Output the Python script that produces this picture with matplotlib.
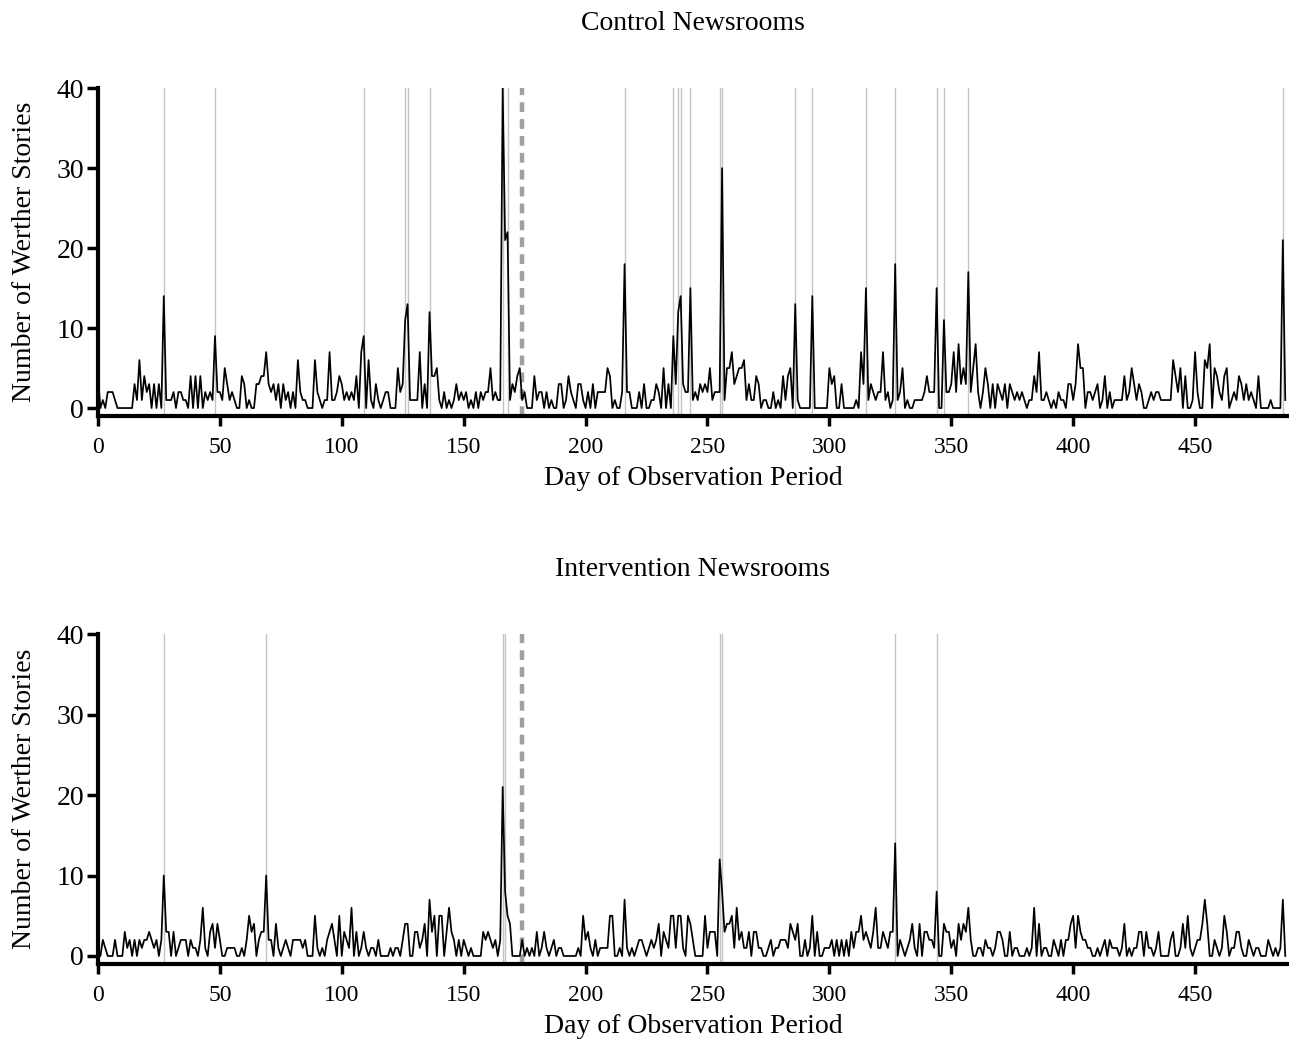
import matplotlib

matplotlib.use("Agg")
import matplotlib.pyplot as plt
import numpy as np

TITLE_SIZE = 20
LABEL_SIZE = 20
XTICK_SIZE = 17
YTICK_SIZE = 20
LINE_COLOR = "black"
EVENT_COLOR = "#c4c4c4"
CUTOFF_COLOR = "#a0a0a0"

# daily counts, day 0 .. 487
CONTROL = [
    4, 0, 1, 0, 2, 2, 2, 1, 0, 0,
    0, 0, 0, 0, 0, 3, 1, 6, 1, 4,
    2, 3, 0, 3, 0, 3, 0, 14, 1, 1,
    1, 2, 0, 2, 2, 1, 1, 0, 4, 0,
    4, 0, 4, 0, 2, 1, 2, 1, 9, 2,
    2, 1, 5, 3, 1, 2, 1, 0, 0, 4,
    3, 0, 1, 0, 0, 3, 3, 4, 4, 7,
    3, 2, 3, 1, 3, 0, 3, 1, 2, 0,
    2, 0, 6, 2, 1, 1, 0, 0, 0, 6,
    2, 1, 0, 1, 1, 7, 1, 1, 2, 4,
    3, 1, 2, 1, 2, 1, 4, 0, 7, 9,
    0, 6, 1, 0, 3, 1, 0, 1, 2, 2,
    0, 0, 0, 5, 2, 3, 11, 13, 1, 1,
    1, 1, 7, 0, 3, 0, 12, 4, 4, 5,
    1, 0, 2, 0, 1, 0, 1, 3, 1, 2,
    1, 2, 0, 1, 0, 2, 0, 2, 1, 2,
    2, 5, 1, 2, 1, 1, 40, 21, 22, 1,
    3, 2, 4, 5, 1, 2, 0, 0, 0, 4,
    1, 2, 2, 0, 2, 0, 1, 0, 0, 3,
    3, 0, 1, 4, 2, 1, 0, 3, 3, 1,
    0, 2, 0, 3, 0, 2, 2, 2, 2, 5,
    4, 0, 1, 0, 0, 2, 18, 2, 2, 0,
    0, 0, 2, 0, 3, 0, 0, 1, 1, 3,
    2, 0, 5, 0, 3, 0, 9, 3, 12, 14,
    3, 2, 2, 15, 1, 2, 1, 3, 2, 3,
    2, 5, 1, 2, 2, 2, 30, 1, 5, 5,
    7, 3, 4, 5, 5, 6, 1, 3, 1, 1,
    4, 3, 0, 1, 1, 0, 0, 2, 0, 1,
    0, 4, 1, 4, 5, 0, 13, 1, 0, 0,
    0, 0, 0, 14, 0, 0, 0, 0, 0, 0,
    5, 3, 4, 0, 0, 3, 0, 0, 0, 0,
    0, 1, 0, 7, 3, 15, 1, 3, 2, 1,
    2, 2, 7, 1, 2, 0, 1, 18, 1, 2,
    5, 0, 1, 0, 0, 1, 1, 1, 1, 2,
    4, 2, 2, 2, 15, 0, 0, 11, 2, 2,
    3, 7, 2, 8, 3, 5, 3, 17, 2, 5,
    8, 2, 0, 2, 5, 3, 0, 3, 0, 3,
    2, 1, 3, 0, 3, 2, 1, 2, 1, 2,
    1, 0, 1, 1, 4, 2, 7, 1, 1, 2,
    1, 0, 1, 0, 2, 1, 1, 0, 3, 3,
    1, 3, 8, 5, 5, 0, 2, 2, 1, 2,
    3, 0, 1, 4, 0, 2, 0, 1, 1, 1,
    1, 4, 1, 2, 5, 3, 1, 3, 2, 0,
    0, 1, 2, 1, 2, 2, 1, 1, 1, 1,
    1, 6, 4, 2, 5, 0, 4, 0, 0, 1,
    7, 2, 0, 0, 6, 5, 8, 0, 5, 4,
    2, 1, 4, 5, 0, 1, 2, 1, 4, 3,
    1, 3, 1, 2, 1, 0, 4, 0, 0, 0,
    0, 1, 0, 0, 0, 0, 21, 1,
]

INTERVENTION = [
    0, 0, 2, 1, 0, 0, 0, 2, 0, 0,
    0, 3, 1, 2, 0, 2, 0, 2, 1, 2,
    2, 3, 2, 1, 2, 0, 2, 10, 3, 3,
    0, 3, 0, 1, 2, 2, 2, 0, 2, 1,
    1, 0, 2, 6, 1, 0, 3, 4, 1, 4,
    2, 0, 0, 1, 1, 1, 1, 0, 0, 1,
    0, 2, 5, 3, 4, 0, 2, 3, 3, 10,
    2, 2, 0, 4, 1, 0, 1, 2, 1, 0,
    2, 2, 2, 2, 1, 2, 0, 0, 0, 5,
    1, 0, 1, 0, 2, 3, 4, 2, 0, 5,
    0, 3, 2, 1, 6, 0, 3, 0, 1, 3,
    1, 0, 1, 1, 0, 2, 0, 0, 0, 0,
    1, 0, 1, 1, 0, 2, 4, 4, 0, 0,
    3, 3, 1, 2, 4, 0, 7, 3, 5, 0,
    5, 5, 0, 3, 6, 3, 2, 0, 2, 0,
    2, 1, 0, 1, 0, 0, 0, 0, 3, 2,
    3, 2, 1, 2, 0, 2, 21, 8, 5, 4,
    0, 0, 0, 0, 2, 0, 1, 0, 1, 0,
    3, 0, 1, 3, 1, 0, 1, 2, 0, 1,
    1, 0, 0, 0, 0, 0, 0, 1, 0, 5,
    2, 3, 1, 0, 2, 0, 1, 1, 1, 1,
    5, 5, 0, 0, 1, 0, 7, 1, 0, 1,
    0, 1, 2, 2, 1, 0, 1, 2, 1, 2,
    4, 0, 3, 2, 1, 5, 5, 1, 5, 5,
    1, 0, 5, 4, 2, 0, 0, 0, 0, 5,
    1, 3, 3, 3, 0, 12, 8, 3, 4, 4,
    5, 1, 6, 2, 3, 1, 1, 3, 0, 3,
    3, 1, 1, 0, 0, 1, 2, 0, 1, 1,
    2, 2, 2, 1, 4, 3, 2, 4, 0, 0,
    2, 0, 1, 5, 0, 3, 0, 0, 1, 1,
    1, 2, 0, 2, 0, 2, 0, 2, 0, 3,
    1, 3, 3, 5, 2, 3, 2, 1, 3, 6,
    1, 1, 3, 2, 1, 3, 3, 14, 0, 2,
    1, 0, 1, 2, 4, 1, 0, 4, 0, 3,
    3, 2, 2, 1, 8, 0, 0, 4, 3, 3,
    1, 2, 0, 4, 2, 4, 3, 6, 2, 0,
    0, 1, 1, 0, 2, 1, 1, 0, 1, 3,
    3, 2, 0, 0, 3, 0, 1, 1, 0, 0,
    0, 1, 0, 1, 6, 0, 4, 0, 1, 1,
    0, 0, 2, 1, 0, 2, 0, 2, 2, 4,
    5, 1, 5, 3, 2, 2, 1, 1, 0, 0,
    1, 0, 1, 2, 0, 2, 1, 1, 1, 0,
    1, 4, 0, 1, 0, 1, 1, 3, 3, 0,
    3, 1, 1, 0, 1, 3, 0, 0, 0, 0,
    2, 3, 0, 0, 1, 4, 1, 5, 1, 0,
    1, 2, 2, 4, 7, 4, 0, 0, 2, 1,
    0, 1, 5, 3, 0, 1, 1, 3, 3, 1,
    0, 0, 2, 1, 0, 1, 1, 0, 0, 0,
    2, 1, 0, 1, 0, 1, 7, 0,
]

CONTROL_EVENTS = [27, 48, 109, 126, 127, 136, 166, 168, 216, 236, 238, 239,
                  243, 255, 256, 286, 293, 315, 327, 344, 347, 357, 486]
INTERVENTION_EVENTS = [27, 69, 166, 167, 255, 256, 327, 344]
CUTOFF_DAY = 174

X_TICKS = [0, 50, 100, 150, 200, 250, 300, 350, 400, 450]
Y_TICKS = [0, 10, 20, 30, 40]


def draw_panel(ax, values, events, title):
    days = np.arange(len(values))
    for day in events:
        ax.axvline(day, color=EVENT_COLOR, linewidth=1.0, zorder=1)
    ax.axvline(CUTOFF_DAY, color=CUTOFF_COLOR, linewidth=3.2,
               linestyle=(0, (2.2, 1.6)), zorder=2)
    ax.plot(days, values, color=LINE_COLOR, linewidth=1.25, zorder=3)

    ax.set_xlim(0, 488)
    ax.set_ylim(-1, 40)
    ax.set_xticks(X_TICKS)
    ax.set_yticks(Y_TICKS)
    ax.tick_params(axis="x", labelsize=XTICK_SIZE, direction="out",
                   length=7, width=2.5, pad=8)
    ax.tick_params(axis="y", labelsize=YTICK_SIZE, direction="out",
                   length=8, width=2.5, pad=2)
    for side in ("top", "right"):
        ax.spines[side].set_visible(False)
    for side in ("left", "bottom"):
        ax.spines[side].set_linewidth(3)

    ax.set_title(title, fontsize=TITLE_SIZE, pad=42)
    ax.set_xlabel("Day of Observation Period", fontsize=LABEL_SIZE, labelpad=6)
    ax.set_ylabel("Number of Werther Stories", fontsize=LABEL_SIZE, labelpad=14)


def main():
    plt.rcParams["font.family"] = ["Liberation Serif", "DejaVu Serif"]

    fig = plt.figure(figsize=(12.89, 10.44), dpi=100)
    ax_top = fig.add_axes([0.076, 0.6015, 0.923, 0.314])
    ax_bottom = fig.add_axes([0.076, 0.0766, 0.923, 0.316])

    draw_panel(ax_top, CONTROL, CONTROL_EVENTS, "Control Newsrooms")
    draw_panel(ax_bottom, INTERVENTION, INTERVENTION_EVENTS, "Intervention Newsrooms")

    fig.savefig("out.png", dpi=100)
    plt.close(fig)


if __name__ == "__main__":
    main()
